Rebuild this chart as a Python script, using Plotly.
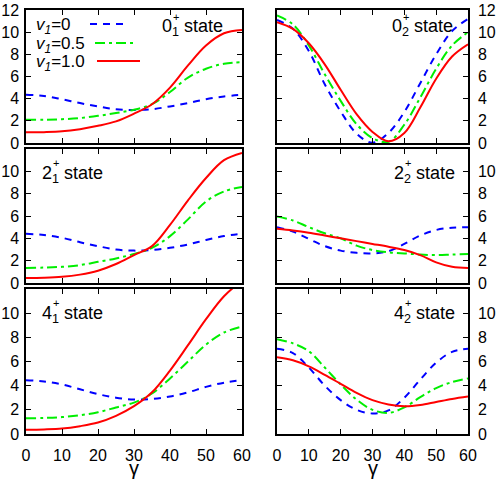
import plotly.graph_objects as go

# gamma grid (deg)
gamma = [0, 5, 10, 15, 20, 25, 30, 35, 40, 45, 50, 55, 60]

# 0_1+ state
s01_v0 = [4.35, 4.25, 3.95, 3.6, 3.3, 3.05, 2.98, 3.05, 3.3, 3.6, 3.95, 4.2, 4.35]
s01_v05 = [2.1, 2.1, 2.15, 2.25, 2.45, 2.7, 3.0, 3.5, 4.6, 5.9, 6.7, 7.15, 7.3]
s01_v10 = [0.96, 0.98, 1.05, 1.25, 1.55, 1.95, 2.65, 3.5, 5.0, 7.0, 8.8, 9.9, 10.2]

# 0_2+ state
s02_v0 = [11.1, 10.3, 8.3, 5.3, 2.85, 0.85, 0.02, 0.9, 2.8, 5.4, 8.0, 10.1, 11.2]
s02_v05 = [11.5, 10.7, 8.8, 6.2, 3.8, 1.7, 0.45, 0.1, 1.65, 4.1, 6.7, 8.8, 10.0]
s02_v10 = [10.9, 10.3, 9.0, 7.1, 4.8, 2.6, 1.0, 0.15, 0.9, 3.2, 5.8, 7.8, 8.9]

# 2_1+ state
s21_v0 = [4.4, 4.3, 4.05, 3.65, 3.3, 3.0, 2.9, 2.95, 3.15, 3.45, 3.85, 4.2, 4.4]
s21_v05 = [1.35, 1.38, 1.45, 1.6, 1.9, 2.2, 2.6, 3.15, 4.2, 5.7, 7.3, 8.2, 8.6]
s21_v10 = [0.45, 0.47, 0.55, 0.75, 1.1, 1.7, 2.5, 3.3, 5.2, 7.4, 9.4, 11.0, 11.65]

# 2_2+ state
s22_v0 = [5.0, 4.6, 3.95, 3.3, 2.9, 2.7, 2.65, 2.85, 3.5, 4.25, 4.75, 4.95, 5.0]
s22_v05 = [5.95, 5.6, 5.0, 4.45, 4.0, 3.35, 2.95, 2.75, 2.65, 2.55, 2.5, 2.55, 2.6]
s22_v10 = [4.85, 4.7, 4.5, 4.25, 4.0, 3.75, 3.5, 3.25, 2.95, 2.5, 1.85, 1.45, 1.35]

# 4_1+ state
s41_v0 = [4.45, 4.35, 4.1, 3.7, 3.3, 3.0, 2.85, 2.9, 3.1, 3.45, 3.9, 4.25, 4.45]
s41_v05 = [1.3, 1.33, 1.4, 1.55, 1.8, 2.2, 2.6, 3.35, 4.6, 6.0, 7.4, 8.4, 8.9]
s41_v10 = [0.35, 0.38, 0.45, 0.65, 0.95, 1.5, 2.3, 3.45, 5.25, 7.35, 9.5, 11.4, 12.7]

# 4_2+ state
s42_v0 = [7.05, 6.7, 5.5, 4.0, 2.8, 2.0, 1.7, 1.95, 3.0, 4.5, 5.9, 6.8, 7.05]
s42_v05 = [7.85, 7.5, 6.85, 5.5, 4.1, 2.85, 2.0, 1.75, 2.2, 3.05, 3.8, 4.3, 4.6]
s42_v10 = [6.35, 6.1, 5.6, 4.9, 4.15, 3.4, 2.8, 2.45, 2.3, 2.4, 2.65, 2.9, 3.1]

panels = [
    ("0", "1", [s01_v0, s01_v05, s01_v10]),
    ("0", "2", [s02_v0, s02_v05, s02_v10]),
    ("2", "1", [s21_v0, s21_v05, s21_v10]),
    ("2", "2", [s22_v0, s22_v05, s22_v10]),
    ("4", "1", [s41_v0, s41_v05, s41_v10]),
    ("4", "2", [s42_v0, s42_v05, s42_v10]),
]
legend_names = ["0", "0.5", "1.0"]

colors = ["#0000ff", "#00ee00", "#ff0000"]
dashes = ["7px,6px", "10px,4px,3px,4px", "solid"]

W, H = 498, 480
ML, MR, MT, MB = 26, 30, 10, 46
PW, PH = W - ML - MR, H - MT - MB


# pixel -> paper coords
def px(x):
    return (x - ML) / PW


def py(y):
    return (H - MB - y) / PH


FONT = "Liberation Sans, Arial, Helvetica, sans-serif"

xdom = [[0, px(242)], [px(277), 1]]
ydom = [[py(143), py(10)], [py(283), py(149)], [py(434), py(289)]]

fig = go.Figure()

for i, (lvl, idx, series) in enumerate(panels):
    n = i + 1
    row, col = i // 2, i % 2
    xa = "x" if n == 1 else "x%d" % n
    ya = "y" if n == 1 else "y%d" % n
    for k, vals in enumerate(series):
        fig.add_trace(go.Scatter(
            x=gamma, y=vals, mode="lines", xaxis=xa, yaxis=ya,
            line=dict(color=colors[k], width=2, dash=dashes[k], shape="spline", smoothing=1.0),
            showlegend=False, hoverinfo="skip",
        ))

    ytext = [str(v) for v in range(0, 13, 2)]
    if row > 0:
        ytext[-1] = " "
    fig.layout["xaxis" if n == 1 else "xaxis%d" % n] = dict(
        domain=xdom[col], anchor=ya, range=[0, 60], dtick=10,
        ticks="inside", ticklen=5, tickwidth=1, tickcolor="black",
        showline=True, linecolor="black", linewidth=1.5, mirror="ticks",
        showgrid=False, zeroline=False, automargin=False,
        showticklabels=(row == 2), ticklabelstandoff=6,
        tickfont=dict(family=FONT, size=16, color="black"),
    )
    fig.layout["yaxis" if n == 1 else "yaxis%d" % n] = dict(
        domain=ydom[row], anchor=xa, range=[0, 12],
        tickvals=list(range(0, 13, 2)), ticktext=ytext,
        side="left" if col == 0 else "right",
        ticks="inside", ticklen=5, tickwidth=1, tickcolor="black",
        showline=True, linecolor="black", linewidth=1.5, mirror="ticks",
        showgrid=False, zeroline=False, automargin=False,
        ticklabelstandoff=2 if col == 0 else 5,
        tickfont=dict(family=FONT, size=16, color="black"),
    )

# gamma axis titles
for cx in (134, 373):
    fig.add_annotation(
        x=px(cx), y=py(468), xref="paper", yref="paper", xanchor="center", yanchor="middle",
        text="γ", showarrow=False, font=dict(family=FONT, size=20, color="black"),
    )

# state labels (pixel positions of the leading digit)
label_pos = [(160, 25), (390, 25), (40, 171), (392, 171), (40, 311), (392, 311)]
for (lvl, idx, _), (lx, ly) in zip(panels, label_pos):
    fig.add_annotation(
        x=px(lx), y=py(ly), xref="paper", yref="paper", xanchor="left", yanchor="middle",
        text="%s<sub>%s</sub> state" % (lvl, idx), showarrow=False, yshift=-3,
        font=dict(family=FONT, size=18, color="black"),
    )
    fig.add_annotation(
        x=px(lx + 11), y=py(ly - 8), xref="paper", yref="paper", xanchor="left", yanchor="middle",
        text="+", showarrow=False,
        font=dict(family=FONT, size=11, color="black"),
    )

# key, gnuplot style: text then sample line
key_rows = [(24, 90, 127), (43, 95, 137), (61, 97, 140)]
for k, (ky, x0, x1) in enumerate(key_rows):
    fig.add_annotation(
        x=px(34), y=py(ky), xref="paper", yref="paper", xanchor="left", yanchor="middle",
        text="<i>v</i><sub><i>1</i></sub>=%s" % legend_names[k], showarrow=False, yshift=-2,
        font=dict(family=FONT, size=17, color="black"),
    )
    fig.add_shape(
        type="line", xref="paper", yref="paper",
        x0=px(x0), x1=px(x1), y0=py(ky), y1=py(ky),
        line=dict(color=colors[k], width=2, dash=dashes[k]),
    )

fig.update_layout(
    width=W, height=H,
    margin=dict(l=ML, r=MR, t=MT, b=MB),
    plot_bgcolor="white", paper_bgcolor="white",
    showlegend=False,
)

# drop the default body margin so the figure sits at the window corner
fig.write_html("out.html", config={"displayModeBar": False},
               post_script="document.body.style.margin='0';")
